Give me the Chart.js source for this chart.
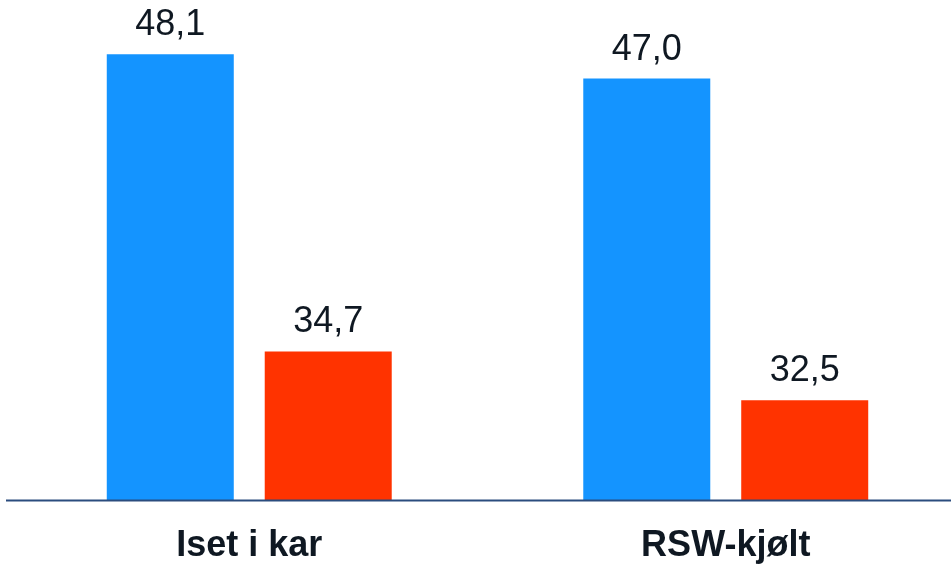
<!DOCTYPE html>
<html lang="no">
<head>
<meta charset="utf-8">
<title>Iset i kar / RSW-kjølt</title>
<script src="https://cdn.jsdelivr.net/npm/chart.js@4"></script>
<style>
  html, body { margin: 0; padding: 0; background: #fff; overflow: hidden; }
  #wrap { width: 975px; height: 567px; }
</style>
</head>
<body>
<div id="wrap"><canvas id="chart"></canvas></div>
<script>
const categories = ['Iset i kar', 'RSW-kjølt'];
const blueValues = [48.1, 47.0];
const redValues = [34.7, 32.5];

const BLUE = '#1494ff';
const RED = '#ff3300';
const TEXT = '#0f1822';
const AXIS = '#2b4c7e';

const fmt = (v) => v.toFixed(1).replace('.', ',');

// value labels above each bar
const barValues = {
  id: 'barValues',
  afterDatasetsDraw(chart) {
    const { ctx } = chart;
    ctx.save();
    ctx.font = '36px "Liberation Sans", Arial, sans-serif';
    ctx.fillStyle = TEXT;
    ctx.textAlign = 'center';
    ctx.textBaseline = 'alphabetic';
    chart.data.datasets.forEach((ds, i) => {
      chart.getDatasetMeta(i).data.forEach((bar, j) => {
        ctx.fillText(fmt(ds.data[j]), bar.x, bar.y - 19);
      });
    });
    ctx.restore();
  },
};

// baseline running across the whole width
const baseLine = {
  id: 'baseLine',
  afterDatasetsDraw(chart) {
    const { ctx } = chart;
    const y = chart.scales.y.getPixelForValue(chart.scales.y.min);
    ctx.save();
    ctx.strokeStyle = AXIS;
    ctx.lineWidth = 2;
    ctx.beginPath();
    ctx.moveTo(6, y + 0.5);
    ctx.lineTo(chart.width, y + 0.5);
    ctx.stroke();
    ctx.restore();
  },
};

new Chart(document.getElementById('chart'), {
  type: 'bar',
  data: {
    labels: categories,
    datasets: [
      { label: 'Serie 1', data: blueValues, backgroundColor: BLUE },
      { label: 'Serie 2', data: redValues, backgroundColor: RED },
    ],
  },
  options: {
    responsive: true,
    maintainAspectRatio: false,
    animation: false,
    layout: { padding: { top: 12, left: 11, right: 11, bottom: 0 } },
    datasets: {
      bar: { categoryPercentage: 0.663, barPercentage: 0.804 },
    },
    plugins: {
      legend: { display: false },
      tooltip: { enabled: false },
    },
    scales: {
      x: {
        grid: { display: false },
        border: { display: false },
        ticks: {
          color: TEXT,
          padding: 16,
          font: { family: '"Liberation Sans", Arial, sans-serif', size: 36, weight: 'bold' },
        },
        afterFit(scale) { scale.height = 67; },
      },
      y: {
        display: false,
        min: 28,
        max: 50,
      },
    },
  },
  plugins: [barValues, baseLine],
});
</script>
</body>
</html>
